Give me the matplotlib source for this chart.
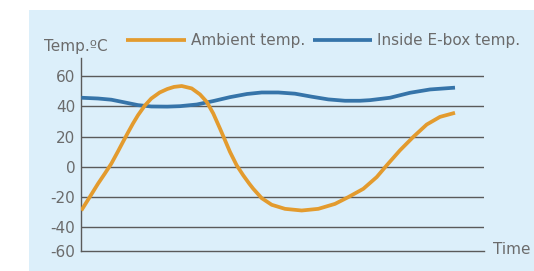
import matplotlib
matplotlib.use("Agg")
import matplotlib.pyplot as plt
from matplotlib.patches import Rectangle

# values (time in arbitrary units, temperature in deg C)
amb_t = [0.3, 8.7, 17, 23.7, 30.3, 37, 42, 47, 52, 57, 63.7, 70.3, 78.7, 86.3,
         93, 100.7, 110.7, 119, 125.7, 132.3, 139, 144, 149, 155.7, 162.3, 168.3,
         172.3, 180.7, 190.7, 204, 220.7, 237.3, 254, 267.3, 282.3, 295.7, 305.7,
         319, 332.3, 345.7, 359, 374]
amb_temp = [-29.1, -20.2, -11.3, -4.7, 2, 10.2, 16.5, 22.7, 28.7, 34.2, 40.5,
            45.3, 49.3, 51.6, 53, 53.6, 52, 48, 43.1, 35.3, 25.3, 17.6, 9.8, 0.9,
            -5.8, -11.3, -14.7, -20.9, -25.3, -28, -29.1, -28, -24.7, -20.2,
            -14.7, -6.9, 0.9, 10.9, 19.8, 28, 33.1, 35.8]

box_t = [0.3, 17, 30.3, 43.7, 57, 70.3, 86.3, 99, 115.7, 132.3, 149, 166,
         180.7, 197.3, 214, 230.7, 247.3, 264, 279, 289, 309, 329, 349, 374]
box_temp = [45.8, 45.3, 44.5, 42.7, 40.9, 40, 39.9, 40.2, 41.3, 43.6, 46.2,
            48.3, 49.3, 49.3, 48.5, 46.5, 44.7, 43.8, 43.8, 44.2, 45.8, 49.1,
            51.3, 52.5]

yticks = [60, 40, 20, 0, -20, -40, -56]
ylabels = ['60', '40', '20', '0', '-20', '-40', '-60']

orange = '#E39B2E'
blue = '#3674A9'
grey = '#6B6B6B'
fs = 11

plt.rcParams['font.family'] = 'DejaVu Sans'
fig = plt.figure(figsize=(5.34, 2.71), dpi=100)
fig.patches.append(Rectangle((29 / 534, 0), 1, 1 - 10 / 271, transform=fig.transFigure,
                             facecolor='#DCEFFA', edgecolor='none', zorder=-1))

ax = fig.add_axes([81 / 534, 1 - 251 / 271, 403 / 534, 193 / 271])
ax.patch.set_visible(False)

for v in yticks[:-1]:
    ax.axhline(v, color='#5A5A5A', lw=1.0, zorder=1)

ax.plot(box_t, box_temp, color=blue, lw=2.7, solid_capstyle='butt',
        solid_joinstyle='round', zorder=3, label='Inside E-box temp.')
ax.plot(amb_t, amb_temp, color=orange, lw=2.7, solid_capstyle='butt',
        solid_joinstyle='round', zorder=4, label='Ambient temp.')

ax.set_xlim(0, 403)
ax.set_ylim(-56, 72.2)
ax.set_yticks(yticks)
ax.set_yticklabels(ylabels)
ax.set_xticks([])
ax.tick_params(axis='y', length=0, pad=4, labelsize=fs, labelcolor=grey)
for s in ['top', 'right']:
    ax.spines[s].set_visible(False)
for s in ['left', 'bottom']:
    ax.spines[s].set_color('#5A5A5A')
    ax.spines[s].set_linewidth(1.0)

h, l = ax.get_legend_handles_labels()
fig.legend(h[::-1], l[::-1], ncol=2, frameon=False, loc='center left',
           bbox_to_anchor=(126 / 534, 1 - 41 / 271), borderpad=0, borderaxespad=0,
           handlelength=3.9, handletextpad=0.33, columnspacing=0.5,
           labelcolor=grey, fontsize=fs)

fig.text(44 / 534, 1 - 47 / 271, 'Temp.ºC', color=grey, fontsize=fs, va='center')
fig.text(493 / 534, 1 - 250 / 271, 'Time', color=grey, fontsize=fs, va='center')

plt.savefig('out.png', dpi=100)
